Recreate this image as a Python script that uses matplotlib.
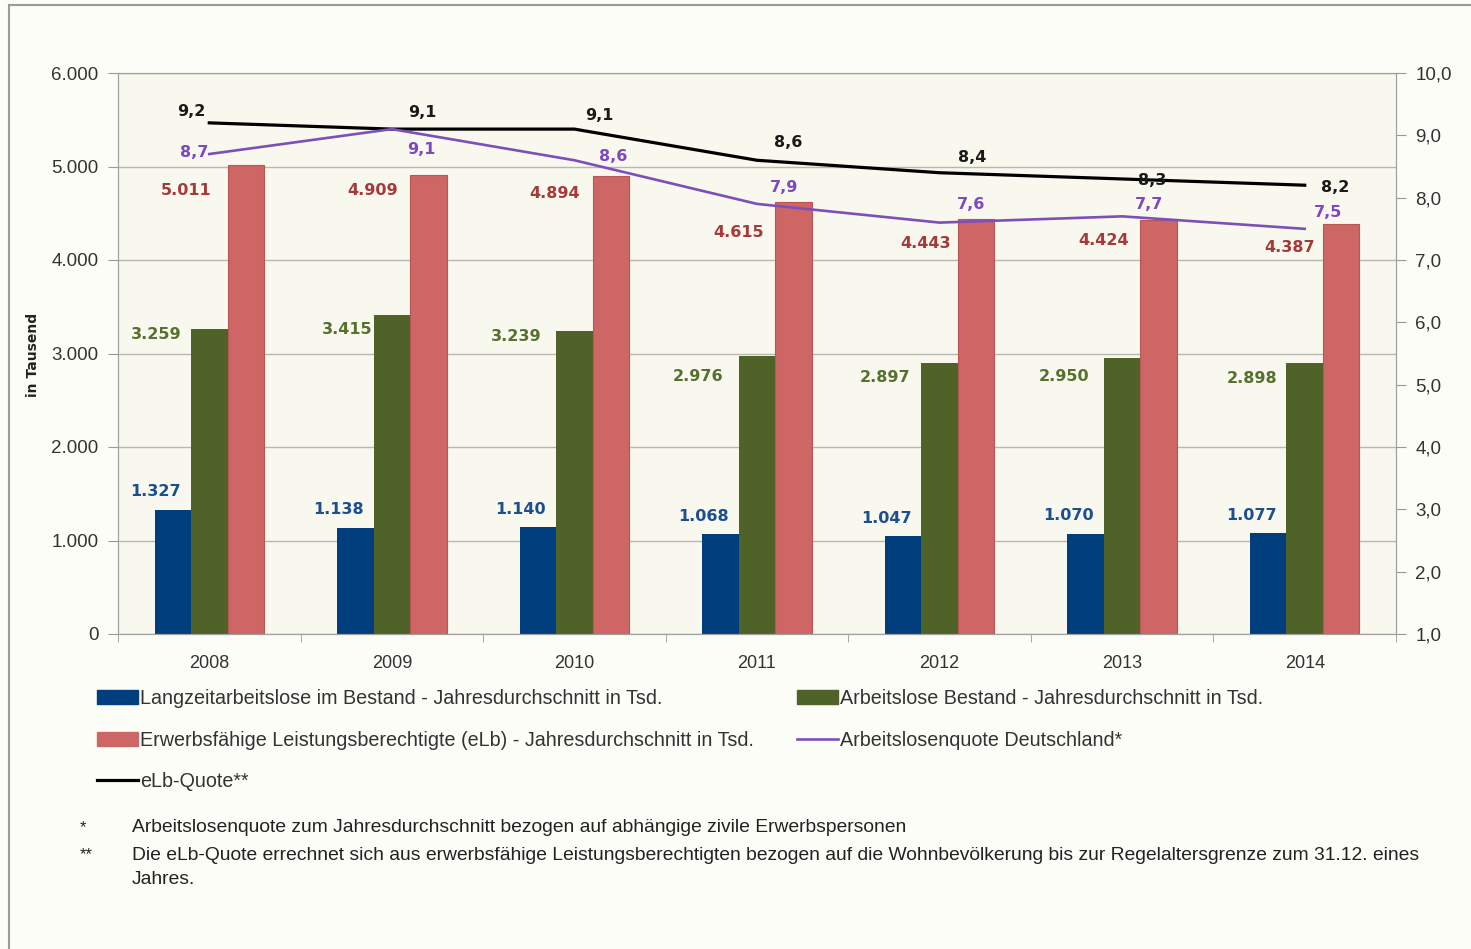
import numpy as np
import matplotlib.pyplot as plt
from matplotlib.patches import Rectangle, Patch
from matplotlib.lines import Line2D

years = ["2008", "2009", "2010", "2011", "2012", "2013", "2014"]
langzeit = [1327, 1138, 1140, 1068, 1047, 1070, 1077]
arbeitslose = [3259, 3415, 3239, 2976, 2897, 2950, 2898]
elb = [5011, 4909, 4894, 4615, 4443, 4424, 4387]
alq = [8.7, 9.1, 8.6, 7.9, 7.6, 7.7, 7.5]
elb_quote = [9.2, 9.1, 9.1, 8.6, 8.4, 8.3, 8.2]

lbl_langzeit = "Langzeitarbeitslose im Bestand - Jahresdurchschnitt in Tsd."
lbl_arbeitslose = "Arbeitslose Bestand - Jahresdurchschnitt in Tsd."
lbl_elb = "Erwerbsfähige Leistungsberechtigte (eLb) - Jahresdurchschnitt in Tsd."
lbl_alq = "Arbeitslosenquote Deutschland*"
lbl_quote = "eLb-Quote**"

# label offsets in pixels (dx, dy), hand placed like in the original
off_blue = [(-17, 18)] * 7
off_green = [(-53, -5), (-45, -15), (-58, -5), (-59, -21), (-55, -14), (-58, -18), (-53, -15)]
off_red = [(-60, -25), (-56, -15), (-56, -17), (-55, -30), (-50, -25), (-55, -20), (-52, -24)]
off_black = [(-18, 11), (30, 17), (25, 14), (31, 18), (33, 15), (30, -2), (30, -2)]
off_purple = [(-15, 2), (29, -20), (39, 4), (27, 16), (31, 18), (27, 12), (23, 16)]

c_blue = "#003e7e"
c_green = "#4f6228"
c_red = "#cd6664"
c_purple = "#7d4fb9"
bg_fig = "#fdfdf8"
bg_ax = "#f8f8ee"
grid_c = "#b8b8b0"

tick_font = ["Liberation Sans", "DejaVu Sans"]
narrow = ["Liberation Sans Narrow", "Liberation Sans", "DejaVu Sans"]
bold_font = ["DejaVu Sans"]


def de_num(v):
    return f"{v:,.0f}".replace(",", ".")


def de_dec(v):
    return f"{v:.1f}".replace(".", ",")


fig = plt.figure(figsize=(14.71, 9.49), dpi=100, facecolor=bg_fig)
ax = fig.add_axes([118 / 1471, 1 - 634 / 949, (1396 - 118) / 1471, (634 - 73) / 949])
ax.set_facecolor(bg_ax)

x = np.arange(len(years))
w = 0.2
ax.bar(x - w, langzeit, w, color=c_blue, zorder=2)
ax.bar(x, arbeitslose, w, color=c_green, zorder=2)
ax.bar(x + w, elb, w, color=c_red, edgecolor="#b85555", lw=0.8, zorder=2)

ax.set_xlim(-0.5, len(years) - 0.5)
ax.set_ylim(0, 6000)
ax.set_yticks(np.arange(0, 6001, 1000))
ax.set_yticklabels([de_num(v) for v in np.arange(0, 6001, 1000)], family=tick_font, fontsize=13.5, color="#333333")
ax.set_xticks(x)
ax.set_xticklabels(years, family=tick_font, fontsize=13, color="#333333")
ax.set_xticks(np.arange(-0.5, len(years), 1), minor=True)
ax.tick_params(axis="x", which="major", length=0, pad=15)
ax.tick_params(axis="x", which="minor", length=6, color="#999999", direction="out")
ax.tick_params(axis="y", length=7, color="#999999", pad=7)
ax.grid(axis="y", color=grid_c, lw=1)
ax.set_axisbelow(True)
for s in ax.spines.values():
    s.set_color("#a0a0a0")

for i in range(len(years)):
    ax.annotate(de_num(langzeit[i]), (x[i] - w, langzeit[i]), xytext=off_blue[i], textcoords="offset pixels",
                ha="center", va="center", fontsize=11.5, fontweight="bold", color="#1d4f8d", family=bold_font)
    ax.annotate(de_num(arbeitslose[i]), (x[i], arbeitslose[i]), xytext=off_green[i], textcoords="offset pixels",
                ha="center", va="center", fontsize=11.5, fontweight="bold", color="#56712e", family=bold_font)
    ax.annotate(de_num(elb[i]), (x[i] + w, elb[i]), xytext=off_red[i], textcoords="offset pixels",
                ha="center", va="center", fontsize=11.5, fontweight="bold", color="#a63a3a", family=bold_font)

ax2 = ax.twinx()
ax2.set_ylim(1, 10)
ax2.set_yticks(np.arange(1, 11))
ax2.set_yticklabels([de_dec(v) for v in np.arange(1, 11)], family=tick_font, fontsize=13.5, color="#333333")
ax2.tick_params(axis="y", length=7, color="#999999", pad=7)
for s in ax2.spines.values():
    s.set_color("#a0a0a0")

ax2.plot(x, elb_quote, color="black", lw=2.3, zorder=3)
ax2.plot(x, alq, color=c_purple, lw=1.9, zorder=3)
for i in range(len(years)):
    ax2.annotate(de_dec(elb_quote[i]), (x[i], elb_quote[i]), xytext=off_black[i], textcoords="offset pixels",
                 ha="center", va="center", fontsize=11.5, fontweight="bold", color="#1a1a1a", family=bold_font)
    ax2.annotate(de_dec(alq[i]), (x[i], alq[i]), xytext=off_purple[i], textcoords="offset pixels",
                 ha="center", va="center", fontsize=11.5, fontweight="bold", color="#7e48bf", family=bold_font)

fig.text(33 / 1471, 1 - 355 / 949, "in Tausend", rotation=90, ha="center", va="center",
         fontsize=10, fontweight="bold", color="#222222", family=bold_font)

handles = [
    Patch(color=c_blue), Patch(color=c_red), Line2D([], [], color="black", lw=2.3),
    Patch(color=c_green), Line2D([], [], color=c_purple, lw=1.9),
]
labels = [lbl_langzeit, lbl_elb, lbl_quote, lbl_arbeitslose, lbl_alq]
fig.legend(handles, labels, ncol=2, loc="upper left", bbox_to_anchor=(97 / 1471, 1 - 689 / 949),
           frameon=False, borderpad=0, borderaxespad=0, handlelength=2.1, handleheight=0.75,
           handletextpad=0.1, columnspacing=2.15, labelspacing=1.15,
           prop={"family": narrow, "size": 14.2}, labelcolor="#333333")

notes = [
    ("*", "Arbeitslosenquote zum Jahresdurchschnitt bezogen auf abhängige zivile Erwerbspersonen", 828),
    ("**", "Die eLb-Quote errechnet sich aus erwerbsfähige Leistungsberechtigten bezogen auf die Wohnbevölkerung "
           "bis zur Regelaltersgrenze zum 31.12. eines", 855),
    ("", "Jahres.", 880),
]
for mark, txt, ypix in notes:
    fig.text(80 / 1471, 1 - ypix / 949, mark, ha="left", va="center", fontsize=12, color="#222222", family=narrow)
    fig.text(132 / 1471, 1 - ypix / 949, txt, ha="left", va="center", fontsize=13.9, color="#222222", family=narrow)

fig.add_artist(Rectangle((9 / 1471, -0.1), 1.2, 1.1 - 5 / 949, transform=fig.transFigure,
                         fill=False, edgecolor="#9a9a9a", lw=1.5))

fig.savefig("out.png", dpi=100, facecolor=bg_fig)
